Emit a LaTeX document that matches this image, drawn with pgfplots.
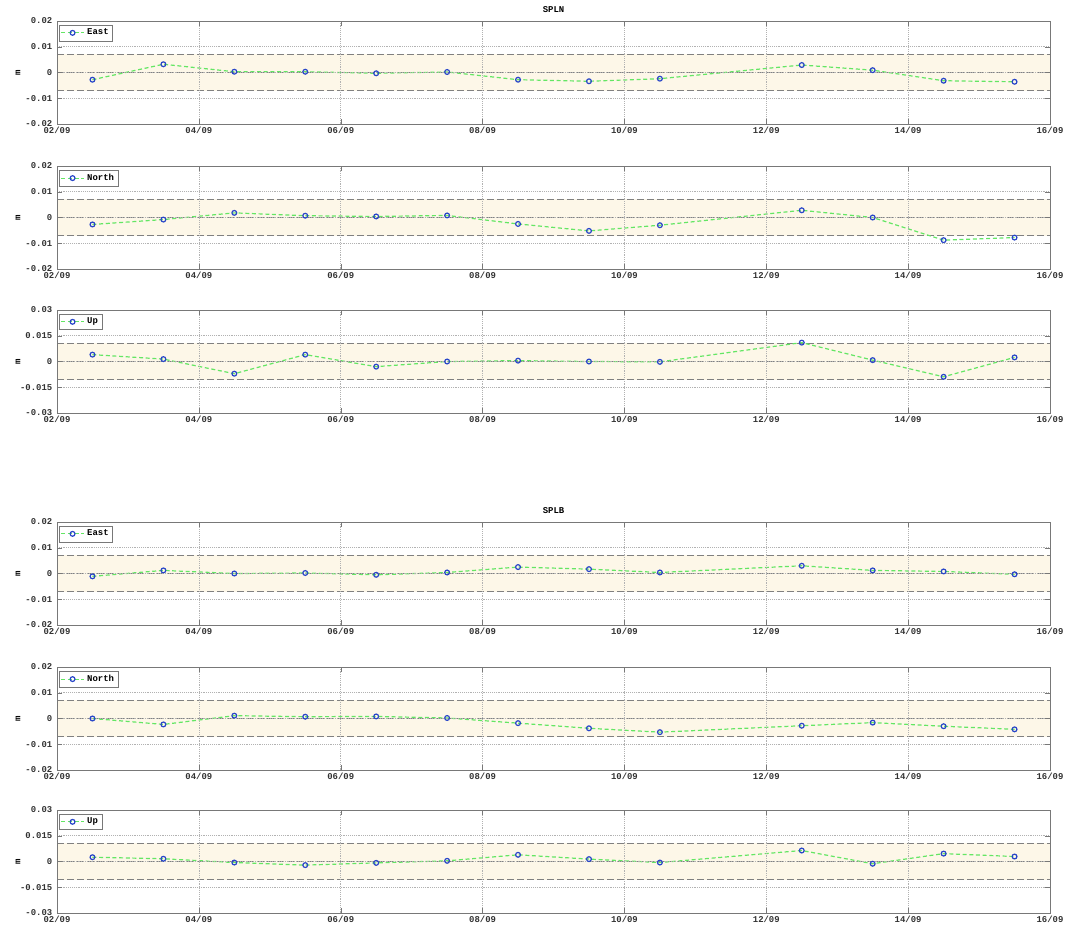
\documentclass[border=0pt]{standalone}
\usepackage{fontspec}
\setmainfont{Liberation Mono}
\usepackage{pgfplots}
\pgfplotsset{compat=1.18}
\definecolor{band}{RGB}{253,247,232}
\definecolor{lgreen}{RGB}{100,230,100}
\definecolor{mblue}{RGB}{40,70,200}
\definecolor{framegray}{RGB}{120,120,120}
\newcommand{\tf}{\bfseries\fontsize{6.7}{7.5}\selectfont}
\pgfplotsset{
  every axis title shift=0pt,
  panel/.style={
    scale only axis, width=744.75pt, height=77.25pt, anchor=north west,
    xmin=2, xmax=16, xtick={2,4,...,16},
    xticklabels={02/09,04/09,06/09,08/09,10/09,12/09,14/09,16/09},
    scaled y ticks=false, scaled x ticks=false,
    grid=major, major grid style={densely dotted, gray!60, line width=0.4pt},
    axis line style={framegray, line width=0.6pt}, tick style={framegray},
    major tick length=4pt,
    ticklabel style={font=\tf, text=black!80},
    xticklabel style={yshift=1pt},
    ylabel={m}, ylabel style={at={(axis description cs:-0.0393,0.5)}, anchor=center, font=\tf},
    axis on top,
    legend style={at={(axis description cs:0.002,0.965)}, anchor=north west, draw=framegray, font=\tf, inner sep=1pt, row sep=-1pt},
    legend cell align=left,
    title style={font=\tf, inner sep=0pt, at={(axis description cs:0.5,1)}, anchor=south, yshift=6pt},
  },
  en/.style={panel, ymin=-0.02, ymax=0.02, ytick={-0.02,-0.01,0,0.01,0.02},
    yticklabels={-0.02,-0.01,0,0.01,0.02}},
  up/.style={panel, ymin=-0.03, ymax=0.03, ytick={-0.03,-0.015,0,0.015,0.03},
    yticklabels={-0.03,-0.015,0,0.015,0.03}},
  dat/.style={lgreen, densely dashed, line width=0.9pt, mark=o, mark size=1.8pt,
    mark options={mblue, solid, line width=0.9pt}},
  dl/.style={forget plot, gray, dash pattern=on 5pt off 2.5pt, line width=0.6pt},
}
\newcommand{\bandlines}[1]{%
  \addplot[forget plot, fill=band, draw=none] coordinates {(2,-#1) (16,-#1) (16,#1) (2,#1)} -- cycle;
  \addplot[dl] coordinates {(2,#1) (16,#1)};
  \addplot[dl] coordinates {(2,0) (16,0)};
  \addplot[dl] coordinates {(2,-#1) (16,-#1)};
}
\begin{document}
\begin{tikzpicture}
\path (0,0) rectangle (801pt,-694.5pt);
% SPLN East
\begin{axis}[en, at={(42.75pt,-15.75pt)}, title={SPLN}]
\bandlines{0.007}
\addplot[dat] coordinates {(2.5,-0.0028)(3.5,0.0032)(4.5,0.0003)(5.5,0.0003)(6.5,-0.0003)(7.5,0.0002)(8.5,-0.0028)(9.5,-0.0034)(10.5,-0.0024)(12.5,0.0029)(13.5,0.0009)(14.5,-0.0032)(15.5,-0.0036)};
\addlegendentry{East}
\end{axis}
% SPLN North
\begin{axis}[en, at={(42.75pt,-124.5pt)}]
\bandlines{0.007}
\addplot[dat] coordinates {(2.5,-0.0027)(3.5,-0.0008)(4.5,0.0018)(5.5,0.0007)(6.5,0.0004)(7.5,0.0008)(8.5,-0.0025)(9.5,-0.0052)(10.5,-0.0030)(12.5,0.0028)(13.5,0.0000)(14.5,-0.0088)(15.5,-0.0078)};
\addlegendentry{North}
\end{axis}
% SPLN Up
\begin{axis}[up, at={(42.75pt,-232.5pt)}]
\bandlines{0.0105}
\addplot[dat] coordinates {(2.5,0.0040)(3.5,0.0014)(4.5,-0.0071)(5.5,0.0040)(6.5,-0.0030)(7.5,0.0000)(8.5,0.0005)(9.5,0.0000)(10.5,-0.0002)(12.5,0.0110)(13.5,0.0008)(14.5,-0.0089)(15.5,0.0024)};
\addlegendentry{Up}
\end{axis}
% SPLB East
\begin{axis}[en, at={(42.75pt,-391.5pt)}, title={SPLB}]
\bandlines{0.007}
\addplot[dat] coordinates {(2.5,-0.0011)(3.5,0.0012)(4.5,0.0000)(5.5,0.0002)(6.5,-0.0005)(7.5,0.0004)(8.5,0.0025)(9.5,0.0017)(10.5,0.0004)(12.5,0.0030)(13.5,0.0012)(14.5,0.0008)(15.5,-0.0003)};
\addlegendentry{East}
\end{axis}
% SPLB North
\begin{axis}[en, at={(42.75pt,-500.25pt)}]
\bandlines{0.007}
\addplot[dat] coordinates {(2.5,0.0000)(3.5,-0.0023)(4.5,0.0011)(5.5,0.0007)(6.5,0.0008)(7.5,0.0002)(8.5,-0.0018)(9.5,-0.0038)(10.5,-0.0053)(12.5,-0.0028)(13.5,-0.0016)(14.5,-0.0030)(15.5,-0.0042)};
\addlegendentry{North}
\end{axis}
% SPLB Up
\begin{axis}[up, at={(42.75pt,-607.5pt)}]
\bandlines{0.0105}
\addplot[dat] coordinates {(2.5,0.0025)(3.5,0.0016)(4.5,-0.0006)(5.5,-0.0021)(6.5,-0.0008)(7.5,0.0004)(8.5,0.0039)(9.5,0.0014)(10.5,-0.0006)(12.5,0.0064)(13.5,-0.0013)(14.5,0.0046)(15.5,0.0029)};
\addlegendentry{Up}
\end{axis}
\end{tikzpicture}
\end{document}
